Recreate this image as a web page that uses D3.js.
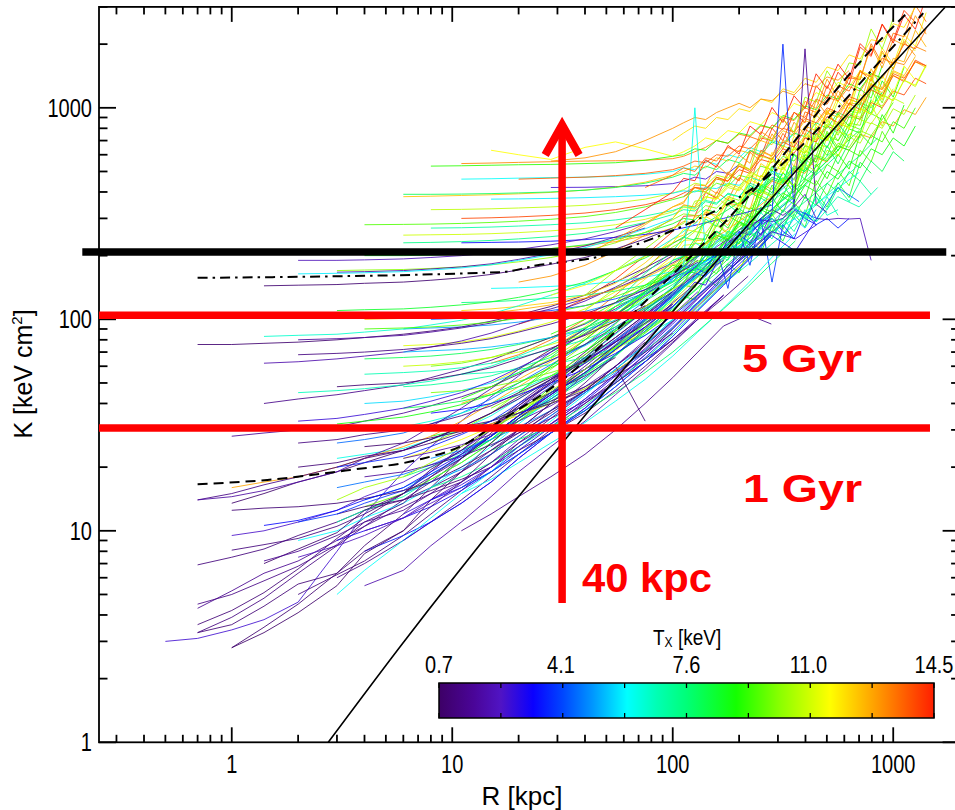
<!DOCTYPE html>
<html>
<head>
<meta charset="utf-8">
<script src="https://cdn.jsdelivr.net/npm/d3@7"></script>
<style>
  body { margin: 0; background: #fff; }
  svg { display: block; }
</style>
</head>
<body>
<svg id="chart" width="955" height="810"></svg>
<script>
// Radii (kpc) for the inner, smoothly sampled profiles
const radiusGrid = [0.5, 0.7, 1, 1.4, 2, 3, 4, 6, 8, 11, 15, 20, 28, 40, 55, 75, 100,
                    130, 170, 220, 280, 360, 450, 560, 700, 850, 1000, 1200, 1450];
// Radii (kpc) for profiles that are finely sampled out to large radius
const outerRadiusGrid = [3, 4, 6, 8, 11, 15, 20, 28, 40, 55, 75, 100,
                         112, 126, 141, 158, 178, 200, 224, 251, 282, 316, 355, 398, 447,
                         501, 562, 631, 708, 794, 891, 1000, 1120, 1260, 1410];

// Each row: [Tx (keV), index of first radius in its grid, K values (keV cm^2)...]
const coolCoreProfiles = [
  [2.6, 0, 3.0, 3.1, 3.4, 3.8, 4.6, 8, 12, 19, 25, 33, 43, 54, 70, 90, 115],
  [1.2, 1, 3.3, 3.9, 4.8, 6.3, 8.5, 10.5, 14, 17, 22, 28, 35, 45, 60, 78, 100],
  [1.0, 1, 3.6, 4.2, 5.1, 6.6, 9.2, 11.5, 15, 19, 25, 31, 40, 52, 70, 90, 115, 140],
  [0.9, 2, 2.8, 3.5, 4.5, 6.3, 8.5, 12, 16, 22, 29, 38, 50, 68, 88, 110],
  [1.5, 1, 4.3, 5.2, 6.3, 7.2, 9, 10.5, 13, 15, 19, 24, 30, 40, 55, 75, 100, 130],
  [1.1, 1, 6.9, 7.5, 8.2, 9.5, 11, 12.5, 14, 16, 19, 23, 28, 37, 50, 68, 90, 120, 150],
  [12.8, 2, 16, 17, 18, 20, 22, 25, 28, 33, 40, 48, 60, 80, 105, 135, 170, 215, 270],
  [1.3, 1, 14, 15, 16.5, 18, 20, 22, 24, 27, 31, 36, 42, 52, 65, 82, 105, 130, 160, 190],
  [0.8, 2, 13.5, 15, 17, 19, 21, 24, 27, 31, 36, 43, 52, 63, 78, 95, 115],
  [1.6, 2, 28, 29, 30, 31, 33, 36, 39, 43, 48, 55, 64, 76, 92, 112, 135, 165, 195],
  [0.9, 1, 76, 76, 77, 78, 80, 82, 85, 88, 92, 98, 105, 115, 130, 150, 175, 205],
  [1.4, 3, 40, 42, 44, 46, 49, 53, 58, 64, 72, 82, 95, 112, 135, 160, 190],
  [2.0, 3, 62, 63, 65, 67, 70, 74, 79, 86, 95, 107, 122, 142, 168, 200],
  [1.7, 4, 80, 81, 82, 84, 87, 91, 96, 103, 112, 125, 140, 160, 185, 215],
  [6.5, 3, 83, 84, 85, 87, 90, 94, 99, 106, 116, 130, 148, 170, 200, 240, 290],
  [0.9, 3, 144, 145, 146, 148, 150, 153, 157, 163, 171, 182, 196, 215, 240, 270],
  [2.2, 4, 190, 190, 191, 193, 196, 200, 206, 214, 225, 240, 260, 285],
  [1.9, 5, 167, 168, 170, 173, 177, 183, 192, 205, 222, 245, 270],
  [5.8, 4, 164, 165, 166, 168, 171, 175, 181, 190, 202, 218, 240, 268, 300],
  [1.1, 4, 5.0, 6.2, 7.2, 9.5, 12, 15.5, 20, 26, 34, 45, 58, 75, 98],
  [2.3, 4, 7.5, 8.5, 9.5, 11.5, 14, 17, 21, 27, 35, 46, 60, 80, 105, 135],
  [1.3, 5, 6.0, 7.0, 9.0, 11, 14, 18, 23, 30, 40, 52, 68, 90],
  [3.1, 5, 9, 10, 11.5, 13, 15.5, 19, 24, 31, 41, 54, 70, 92, 120, 155, 200],
  [1.0, 5, 12, 13, 14, 15.5, 17.5, 20, 24, 29, 36, 46, 60, 78, 100, 130],
  [3.6, 6, 8, 9.5, 11, 13.5, 17, 22, 29, 38, 50, 66, 87, 115, 150, 195, 250],
  [1.6, 6, 18, 19, 20.5, 22.5, 25.5, 29, 34, 41, 50, 63, 80, 102, 130],
  [0.8, 6, 25, 26, 27.5, 29.5, 32, 36, 41, 48, 57, 70, 86],
  [2.8, 7, 12, 14, 16.5, 20, 25, 32, 42, 55, 72, 95, 125, 165, 215, 280],
  [4.8, 7, 15, 17, 19.5, 23, 28, 35, 45, 58, 76, 100, 130, 170, 220, 285, 370],
  [1.9, 7, 22, 23.5, 25.5, 28.5, 33, 39, 48, 60, 76, 98, 126, 162, 210],
  [1.2, 8, 30, 31, 33, 36, 40, 46, 54, 65, 80, 100, 126, 160],
  [3.3, 8, 36, 37.5, 40, 44, 50, 58, 69, 84, 104, 130, 163, 205, 258],
  [1.0, 4, 20, 21, 22.5, 24, 26, 29, 33, 38, 45, 54, 66],
  [2.5, 2, 9.5, 10, 11, 12.5, 14.5, 17, 20, 24, 30, 38, 48, 62, 80, 103, 132, 168],
  [0.85, 3, 7, 8.2, 9.8, 12.5, 15, 19.5, 24, 31, 39, 50, 64, 82, 105, 135],
  [3.9, 4, 11, 12, 13.5, 15.5, 18.5, 22.5, 28, 35, 45, 58, 76, 99, 128, 165, 215, 275],
  [2.0, 6, 5.5, 6.5, 8.5, 11, 14.5, 19, 25, 33, 44, 58, 77, 100, 130],
  [1.0, 1, 3.3, 3.6, 4.4, 5.6, 6.3, 8, 10, 13, 17, 23, 30, 40],
  [0.75, 2, 2.8, 3.3, 4.1, 5.5, 7.8, 10, 14, 19, 26, 34, 44, 58, 75],
  [1.3, 1, 4.5, 5.0, 5.8, 6.8, 8.6, 11, 13.5, 18, 23, 30, 39, 51, 66, 86, 110],
  [1.1, 2, 8.1, 8.6, 9.2, 10.5, 12, 15, 18, 22, 28, 35, 44, 56, 72, 92],
  [0.95, 2, 12.5, 12.8, 13, 13.5, 14.2, 15.5, 17, 20, 24, 29, 36, 46, 60, 78],
  [1.8, 1, 14, 14.5, 15.5, 17, 19, 22, 26, 31, 38, 47, 58, 72, 90],
  [1.5, 3, 7.2, 8, 9.5, 11, 12.5, 15, 17, 21, 26, 32, 40, 50, 63, 80],
  [3.4, 3, 10.6, 11.2, 12.5, 14, 16, 19, 23, 28, 35, 44, 56, 72, 92, 118],
  [6.0, 5, 5.0, 6.5, 9, 11.5, 15, 19, 25, 33, 44, 58, 76, 100],
  [10.5, 5, 14, 16, 18, 21, 25, 30, 37, 46, 58, 74, 95, 122, 158, 205, 265],
  [2.7, 4, 33, 34, 35.5, 38, 41, 45, 51, 59, 70, 85, 105, 130, 162, 200],
  [1.2, 4, 26, 27, 28.5, 30, 32, 35, 39, 45, 53, 64, 78, 96, 118],
  [0.9, 5, 48, 49, 50, 52, 55, 59, 65, 73, 84, 98, 116],
  [1.2, 4, 68, 69, 70, 72, 74, 77, 81, 87, 95, 106, 120, 138, 160, 186],
  [2.9, 7, 9, 11, 13.5, 17, 22, 29, 38, 51, 68, 90, 120, 160, 210, 260, 240, 280],
  [3.2, 8, 14, 16, 19, 23, 29, 37, 48, 63, 83, 110, 145, 190, 250, 210, 300],
  [2.4, 6, 10, 11.5, 13.5, 16, 20, 25, 32, 42, 55, 73, 97, 128, 170, 225, 280],
  [4.4, 9, 16, 19, 23, 29, 37, 48, 63, 83, 110, 145, 192, 255, 330, 300, 420, 360],
  [1.5, 9, 10, 12, 14.5, 18, 23, 30, 40, 53, 70, 93, 105, 95],
  [1.0, 10, 25, 30, 37, 46, 60, 33]
];

const midProfiles = [
  [5.2, 6, 14, 16, 18.5, 22, 27, 34, 43, 56, 74, 98, 130, 172, 225, 290, 370, 470],
  [7.8, 7, 18, 20, 23, 27, 33, 41, 52, 67, 88, 115, 150, 195, 255, 330, 420, 530, 660],
  [6.2, 5, 22, 23, 24.5, 27, 30, 35, 42, 52, 66, 85, 110, 143, 185, 240, 310, 395, 500],
  [8.6, 8, 28, 30, 33, 38, 45, 55, 68, 86, 110, 142, 184, 238, 305, 390, 500, 630, 780],
  [5.6, 6, 40, 41, 43, 46, 50, 56, 64, 75, 90, 110, 136, 170, 212, 265, 330, 410],
  [7.2, 7, 48, 49, 51, 54, 59, 66, 76, 90, 108, 132, 163, 203, 252, 315, 390, 485, 600],
  [4.5, 5, 26, 27, 29, 32, 36, 42, 50, 61, 76, 96, 122, 155, 197, 250],
  [6.8, 9, 55, 56, 58, 61, 66, 73, 84, 99, 120, 147, 182, 226, 282, 350, 435, 540],
  [8.0, 6, 65, 66, 67, 69, 72, 76, 82, 91, 104, 122, 146, 178, 218, 268, 330, 408, 505, 625],
  [5.0, 7, 90, 91, 92, 94, 97, 102, 109, 119, 133, 152, 178, 212, 256, 312, 380],
  [7.5, 9, 120, 121, 123, 126, 130, 136, 145, 158, 176, 200, 232, 275, 330, 400, 485, 590, 720],
  [4.2, 8, 100, 101, 103, 106, 110, 116, 125, 138, 156, 180, 212, 255, 310],
  [6.0, 10, 140, 141, 143, 146, 151, 158, 168, 182, 201, 226, 258, 300, 352, 416, 495],
  [3.4, 9, 230, 231, 232, 234, 238, 244, 252, 264, 280, 300, 322, 346],
  [6.8, 6, 55, 56, 57, 59, 62, 66, 72, 80, 92, 108, 130, 158, 195, 240, 300],
  [8.5, 5, 110, 111, 112, 114, 117, 121, 127, 136, 150, 170, 195, 228, 270, 320, 380, 450],
  [6.9, 11, 35, 40, 47, 57, 71, 90, 116, 150, 195, 250, 320, 290, 380, 340, 420],
  [7.0, 5, 11, 12.5, 14.5, 17.5, 21, 26, 33, 43, 56, 73, 96, 125, 165, 215, 280, 360, 440],
  [9.8, 6, 13, 15, 17.5, 21, 26, 33, 42, 55, 72, 95, 125, 165, 215, 270],
  [5.9, 4, 9, 10, 11.5, 13.5, 16, 20, 25, 32, 42, 55, 72, 95, 125, 165, 215],
  [11.5, 7, 22, 24, 27, 31, 37, 45, 56, 71, 91, 118, 152, 196, 250],
  [6.4, 6, 30, 31, 33, 36, 40, 46, 54, 65, 80, 100, 127, 162, 205, 260, 330],
  [8.1, 7, 38, 39, 41, 44, 48, 54, 62, 74, 90, 112, 140, 176, 222],
  [4.6, 5, 16, 17, 18.5, 20.5, 23.5, 28, 34, 42, 53, 68, 88, 114, 148, 192],
  [10.0, 8, 45, 46, 48, 51, 56, 63, 73, 87, 106, 131, 163, 205, 258, 325],
  [7.3, 8, 16, 18, 21, 25, 31, 39, 50, 65, 85, 112, 148, 195],
  [12.3, 9, 30, 32, 35, 40, 47, 57, 71, 90, 116, 150, 195, 255, 330],
  [5.3, 7, 70, 71, 72, 74, 77, 82, 89, 99, 113, 133, 160, 196, 240],
  [6.7, 4, 45, 46, 47, 49, 51, 55, 60, 67, 77, 91, 110, 135, 168, 210],
  [9.5, 6, 90, 91, 92, 94, 97, 101, 107, 116, 128, 145, 168, 200, 242, 295, 360],
  [4.9, 8, 22, 24, 27, 31, 37, 45, 56, 71, 91, 118, 152],
  [8.9, 5, 32, 33, 34.5, 36.5, 39.5, 44, 50, 59, 71, 88, 110, 140, 178, 228, 290],
  [3.7, 5, 20, 21, 22.5, 25, 28.5, 33, 40, 49, 62, 79, 101, 130],
  [10.9, 7, 60, 61, 63, 66, 70, 76, 85, 98, 115, 138, 168, 208, 258],
  [6.1, 9, 15, 17.5, 21, 26, 32.5, 41, 52, 67, 87, 113, 148, 195, 255],
  [7.7, 10, 24, 27, 31, 37, 45, 56, 70, 88, 112, 143, 183, 235],
  [12.7, 6, 100, 101, 102, 104, 107, 111, 117, 126, 139, 157, 182, 215, 258, 312, 380]
];

// Finely sampled profiles reaching large radii (outerRadiusGrid)
const hotProfiles = [
  [9.0, 4, 22, 27, 35, 48, 66, 90, 115, 140, 165, 167, 214, 202, 262, 244, 337, 316, 431, 377, 514, 458, 686, 595, 794, 693, 1043, 942, 1341, 1123, 1554],
  [10.2, 3, 26, 30, 36, 45, 58, 76, 100, 128, 160, 168, 214, 218, 278, 254, 325, 302, 438, 411, 526, 454, 666, 630, 886, 742, 966, 944, 1398, 1125, 1568],
  [11.8, 5, 50, 58, 72, 92, 120, 155, 200, 236, 238, 306, 288, 374, 348, 482, 452, 616, 538, 734, 654, 980, 850, 1134, 990, 1490, 1346, 1916, 1604, 2220, 1954, 2820],
  [12.6, 4, 40, 45, 52, 63, 80, 103, 135, 175, 184, 235, 238, 305, 278, 355, 331, 480, 450, 576, 497, 728, 690, 970, 812, 1057, 1033, 1530, 1230, 1715, 1649, 2328, 1943],
  [13.5, 5, 62, 68, 80, 100, 130, 172, 230, 242, 308, 313, 400, 366, 467, 435, 630, 591, 757, 653, 957, 906, 1274, 1067, 1389, 1357, 2010, 1617, 2254, 2167, 3059, 2553],
  [14.2, 6, 95, 105, 125, 155, 200, 260, 307, 309, 398, 374, 486, 452, 627, 588, 801, 699, 954, 850, 1274, 1105, 1474, 1287, 1937, 1750, 2491, 2085, 2886, 2540],
  [9.6, 5, 30, 36, 45, 58, 75, 98, 125, 145, 141, 178, 164, 208, 189, 256, 234, 314, 266, 356, 310, 453, 385, 503, 428, 629, 556, 774, 633],
  [10.8, 6, 55, 65, 82, 105, 138, 180, 187, 229, 227, 284, 256, 317, 290, 409, 376, 470, 396, 569, 526, 724, 592, 752, 720, 1039, 817, 1112, 1048],
  [8.4, 4, 24, 28, 34, 42, 53, 68, 88, 110, 128, 124, 156, 144, 183, 166, 226, 206, 276, 234, 314, 273, 398, 339, 442, 376, 553, 490],
  [9.9, 3, 60, 62, 66, 72, 82, 96, 115, 132, 150, 158, 201, 204, 261, 239, 305, 284, 411, 386, 494, 426, 624, 591, 831, 696, 906, 885, 1311, 1055, 1470],
  [11.2, 2, 75, 76, 78, 82, 88, 97, 112, 135, 160, 190, 224, 226, 291, 274, 355, 331, 458, 429, 585, 511, 697, 621, 931, 808, 1077, 941, 1416, 1279, 1820, 1524, 2109, 1856],
  [12.2, 4, 110, 112, 115, 120, 130, 148, 185, 240, 250, 305, 302, 379, 341, 422, 386, 545, 502, 626, 528, 758, 701, 965, 790, 1003, 960, 1385, 1090, 1483, 1397],
  [13.0, 6, 150, 160, 180, 210, 250, 300, 348, 339, 426, 393, 498, 453, 615, 561, 753, 639, 855, 744, 1086, 924, 1206, 1026, 1509, 1335, 1857, 1518, 2061, 1764],
  [9.3, 7, 85, 100, 120, 142, 165, 195, 196, 252, 238, 309, 287, 398, 373, 508, 444, 606, 540, 809, 701, 936, 817, 1229, 1110, 1581],
  [8.9, 8, 70, 95, 135, 190, 198, 241, 239, 300, 270, 334, 306, 431, 397, 496, 418, 600, 555, 764, 625, 794, 760, 1096],
  [7.6, 9, 120, 165, 210, 244, 237, 298, 275, 349, 317, 431, 393, 527, 447, 599, 521, 760, 647, 844, 718],
  [6.6, 10, 140, 190, 200, 230, 215, 260, 245, 290, 255, 320, 280, 300, 350, 290, 380, 310, 330],
  [10.4, 8, 130, 170, 215, 270, 284, 362, 367, 470, 429, 548, 510, 740, 694, 888, 767, 1123, 1064, 1496, 1253, 1631, 1593, 2360, 1898, 2646],
  [11.5, 7, 130, 145, 170, 198, 230, 267, 260, 327, 301, 382, 347, 472, 430, 577, 490, 656, 570, 833, 708, 925, 787, 1157, 1024, 1424, 1164, 1580, 1352],
  [12.9, 8, 200, 240, 285, 340, 354, 432, 428, 537, 483, 598, 547, 772, 711, 887, 748, 1074, 993, 1367, 1119, 1421, 1360, 1962, 1544, 2101, 1979, 2727, 2230],
  [14.5, 9, 270, 330, 400, 464, 452, 568, 524, 664, 604, 820, 748, 1004, 852, 1140, 992, 1448, 1232, 1608, 1368, 2012, 1780, 2476, 2024, 2748, 2352, 3352],
  [9.1, 4, 42, 48, 56, 68, 86, 105, 128, 150, 174, 170, 213, 197, 249, 227, 308, 281, 377, 320, 428, 372, 543, 462, 603, 513, 755, 668, 929, 759, 1031],
  [10.0, 5, 38, 44, 54, 68, 88, 113, 140, 147, 188, 190, 244, 223, 284, 265, 384, 360, 461, 398, 582, 552, 776, 650, 846, 826, 1224, 984],
  [8.2, 7, 66, 88, 106, 132, 165, 172, 210, 208, 261, 234, 290, 266, 375, 345, 431, 363, 521, 482, 663, 543, 690],
  [7.0, 8, 95, 115, 132, 150, 165, 180, 172, 205, 190, 240, 215, 270, 240, 300, 260, 330, 290, 380, 310],
  [5.4, 9, 110, 135, 165, 180, 170, 200, 215, 205, 250, 230, 215, 280, 250, 300, 270, 330],
  [3.6, 11, 130, 150, 165, 160, 200, 215, 250, 230, 280, 300, 260, 240, 320, 280, 300, 270, 300],
  [2.2, 12, 160, 175, 200, 220, 240, 265, 280, 295, 290, 300, 340, 390, 300, 296, 300, 298, 300, 190],
  [4.0, 10, 110, 140, 160, 175, 165, 215, 140, 260, 180, 300, 150, 280, 240],
  [3.0, 9, 75, 92, 115, 130, 150, 145, 185, 240, 200, 290, 250, 320],
  [6.2, 9, 100, 125, 155, 180, 1000, 200, 230, 260, 250, 300],
  [3.8, 14, 180, 200, 230, 260, 250, 290, 320, 2000, 330, 300, 280],
  [1.5, 15, 200, 230, 250, 270, 300, 330, 310, 340, 1900, 350, 320],
  [8.8, 6, 45, 60, 80, 105, 135, 170, 200, 190, 230, 250, 235, 290, 270, 330, 310, 380, 350, 430, 400, 500, 460, 560, 520, 640, 600, 720, 660, 820],
  [9.4, 7, 70, 90, 115, 145, 180, 175, 215, 205, 250, 240, 290, 275, 340, 320, 395, 370, 460, 430, 540, 500, 630, 590, 740, 690, 860, 800, 1000],
  [10.6, 8, 110, 140, 175, 220, 235, 260, 255, 300, 290, 345, 330, 400, 380, 460, 430, 540, 500, 630, 590, 730, 680, 850, 800, 990, 930, 1150],
  [12.5, 9, 230, 280, 340, 360, 420, 400, 470, 450, 540, 510, 620, 590, 700, 680, 820, 780, 950, 900, 1100, 1050, 1300, 1220, 1500, 1420, 1750],
  [13.6, 10, 420, 480, 520, 500, 580, 560, 650, 620, 730, 700, 830, 790, 950, 900, 1100, 1040, 1270, 1200, 1480, 1400, 1720, 1620, 2000, 1900, 2350],
  [11.3, 11, 300, 340, 330, 380, 370, 430, 410, 490, 470, 560, 530, 640, 610, 730, 700, 850, 800, 990, 930, 1150, 1080, 1350, 1280, 1600],
  [8.0, 12, 150, 175, 170, 205, 195, 240, 225, 280, 260, 330, 300, 380, 345, 440, 400, 500, 450, 560, 500, 620, 560],
  [7.2, 13, 170, 200, 190, 230, 215, 260, 240, 300, 270, 340, 300, 380, 330, 420, 360, 450, 390],
  [13.9, 12, 380, 420, 410, 470, 450, 530, 500, 600, 570, 690, 650, 790, 740, 910, 850, 1050, 980, 1220, 1140, 1420, 1330, 1680, 1580],
  [10.9, 13, 350, 400, 380, 440, 420, 500, 470, 570, 540, 650, 610, 750, 700, 860, 800, 1000, 930, 1160, 1080, 1350, 1260, 1580]
];

// Profiles with a high, flat central entropy (outerRadiusGrid)
const flatCoreProfiles = [
  [11.6, 5, 630, 600, 570, 650, 690, 640, 590, 620, 660, 720, 700, 780, 760, 860, 830, 950, 900, 1050, 1000, 1180, 1120, 1320, 1250, 1500, 1420, 1700],
  [13.2, 4, 545, 548, 552, 556, 560, 562, 565, 575, 590, 620, 650, 700, 680, 750, 730, 820, 800, 900, 870, 1000, 950, 1120, 1080, 1260, 1200, 1450, 1380, 1650, 1600, 1950, 1850],
  [9.2, 3, 530, 532, 535, 538, 540, 545, 550, 565, 590, 600, 640, 630, 700, 680, 760, 740, 830, 800, 920, 880, 1020, 980, 1150, 1100, 1300, 1230, 1450, 1380],
  [6.0, 4, 460, 462, 465, 468, 470, 475, 485, 500, 520, 510, 560, 540, 600, 580, 650, 620, 700, 680, 760],
  [2.6, 7, 420, 421, 424, 428, 438, 450, 470, 460, 500, 490, 540],
  [12.4, 2, 380, 382, 385, 388, 392, 398, 408, 422, 445, 480, 500, 530, 520, 580, 560, 630, 610, 700, 670, 780, 740, 870, 830, 980, 930, 1100, 1050, 1250, 1180, 1420, 1350, 1650, 1550],
  [8.0, 2, 390, 390, 391, 393, 396, 400, 408, 420, 440, 470, 490, 480, 530, 510, 570, 550, 630, 600, 690, 660, 760, 730, 850, 800, 950, 900, 1060, 1000, 1180],
  [10.8, 3, 330, 331, 333, 336, 340, 346, 355, 370, 395, 410, 440, 430, 480, 465, 530, 510, 590, 570, 660, 630, 740, 710, 840, 800, 950, 900, 1080, 1020, 1230],
  [14.0, 4, 300, 302, 305, 310, 318, 330, 348, 374, 395, 420, 415, 460, 450, 510, 490, 570, 550, 640, 610, 720, 690, 820, 780, 930, 880, 1060, 1000, 1200, 1150, 1380, 1300],
  [9.6, 1, 280, 281, 282, 284, 287, 291, 297, 306, 320, 340, 368, 380, 405, 400, 440, 425, 480, 465, 530, 510, 590, 560, 660, 630, 740, 700, 830, 790, 940, 880, 1060],
  [11.0, 2, 250, 251, 252, 254, 257, 262, 269, 280, 297, 322, 345, 340, 380, 370, 420, 405, 470, 450, 530, 510, 600, 570, 680, 650, 770, 740, 880, 840, 1000],
  [7.4, 2, 230, 231, 233, 236, 240, 246, 255, 268, 287, 313, 330, 325, 360, 350, 395, 380, 440, 420, 490, 460, 530, 500, 580],
  [12.9, 3, 205, 206, 208, 211, 216, 223, 233, 248, 270, 290, 285, 320, 310, 355, 345, 400, 385, 450, 430, 510, 490, 580, 555, 660, 630, 750, 720, 860, 820, 980, 930, 1120],
  [5.8, 5, 370, 371, 373, 376, 380, 386, 395, 405, 400, 420, 415, 440, 430, 470, 450, 500, 480],
  [8.6, 1, 200, 200, 201, 203, 206, 210, 216, 225, 238, 257, 283, 300, 295, 330, 320, 365, 350, 410, 395, 460, 440, 520, 500, 590, 560, 660, 630, 740],
  [10.2, 0, 170, 171, 172, 174, 177, 181, 187, 196, 210, 230, 258, 296, 315, 310, 345, 335, 380, 365, 420, 405, 470, 450, 530, 510, 600, 570, 680, 650, 780, 740, 880],
  [13.7, 6, 460, 465, 470, 478, 490, 510, 530, 560, 550, 600, 590, 660, 640, 720, 700, 800, 770, 890, 850, 1000, 950, 1130, 1080, 1280, 1220, 1450, 1380, 1650, 1580],
  [7.0, 3, 270, 271, 273, 276, 280, 286, 295, 308, 327, 340, 335, 365, 355, 390, 380, 430, 410, 470, 450, 510],
  [12.0, 11, 700, 760, 820, 800, 900, 880, 990, 960, 1100, 1060, 1230, 1180, 1380, 1320, 1560, 1500, 1780, 1700, 2100, 2050, 2500, 2400, 3000, 3300],
  [13.0, 7, 560, 580, 620, 700, 800, 850, 900, 880, 950, 1000, 1050, 1000, 1100, 1080, 1200, 1150, 1300, 1250, 1400, 1350, 1500]
];

// Reference curves, [R (kpc), K (keV cm^2)]
const baselineCurve = [[2.74, 1], [5.8, 2.83], [35.3, 30], [224, 286], [1718, 2986]];
const dashedCurve = [[0.70, 16.6], [1.45, 17.4], [3.44, 19.4], [6.92, 21.6], [11.7, 26.0], [16.0, 32.3],
                     [31.5, 51.6], [85, 138], [120, 197], [176, 295], [902, 2168], [1133, 2754]];
const dashDotCurve = [[0.70, 157], [16.5, 167], [25, 181], [45.4, 197], [71.1, 229], [120, 286],
                      [202, 379], [968, 1876], [1368, 2806]];

// Marked entropy levels and radius
const thresholdK = 208;
const gyrLevelsK = [104.4, 30.6];
const markerRadius = 31.5;

// Temperature colour bar
const tempLabels = [0.7, 4.1, 7.6, 11.0, 14.5];
const tempTickValues = [0.7, 2.425, 4.15, 5.875, 7.6, 9.325, 11.05, 12.775, 14.5];
const rainbowPositions = [0, 0.07, 0.125, 0.19, 0.25, 0.31, 0.38, 0.44, 0.5, 0.6, 0.69, 0.79, 0.88, 1];
const rainbowColors = ['#3d0066', '#4a0598', '#5014c4', '#0a00ff', '#0046ff', '#0096ff', '#00ffff',
                       '#00ffb4', '#00ff78', '#14ff00', '#8cff00', '#ffff00', '#ffa000', '#ff1e00'];

const axisTicksR = [1, 10, 100, 1000];
const axisTicksK = [1, 10, 100, 1000];

const svg = d3.select('#chart');
const x = d3.scaleLog().domain([0.25, 2000]).range([99, 959.6]);
const y = d3.scaleLog().domain([1, 3000]).range([742.3, 6.9]);
const tMin = 0.7, tMax = 14.5;
const color = d3.scaleLinear()
  .domain(rainbowPositions.map(p => tMin + p * (tMax - tMin)))
  .range(rainbowColors)
  .interpolate(d3.interpolateRgb)
  .clamp(true);

svg.append('rect').attr('width', 955).attr('height', 810).attr('fill', '#fff');
const defs = svg.append('defs');
defs.append('clipPath').attr('id', 'plot-clip')
  .append('rect')
  .attr('x', x.range()[0]).attr('y', y.range()[1])
  .attr('width', x.range()[1] - x.range()[0])
  .attr('height', y.range()[0] - y.range()[1]);

const plot = svg.append('g').attr('clip-path', 'url(#plot-clip)');
const line = d3.line().x(d => x(d[0])).y(d => y(d[1]));
const smoothLine = d3.line().x(d => x(d[0])).y(d => y(d[1])).curve(d3.curveMonotoneX);

function toPoints(row, grid) {
  const start = row[1];
  return row.slice(2, 2 + grid.length - start).map((k, i) => [grid[start + i], k]);
}

// Interleave the groups so that no temperature range sits entirely on top
const groups = [
  coolCoreProfiles.map(r => ({ row: r, grid: radiusGrid })),
  midProfiles.map(r => ({ row: r, grid: radiusGrid })),
  hotProfiles.map(r => ({ row: r, grid: outerRadiusGrid })),
  flatCoreProfiles.map(r => ({ row: r, grid: outerRadiusGrid }))
];
const allProfiles = [];
const longest = d3.max(groups, g => g.length);
for (let i = 0; i < longest; i++) {
  groups.forEach(g => { if (i < g.length) allProfiles.push(g[i]); });
}

plot.append('g')
  .selectAll('path')
  .data(allProfiles)
  .join('path')
  .attr('d', p => line(toPoints(p.row, p.grid)))
  .attr('fill', 'none')
  .attr('stroke', p => color(p.row[0]))
  .attr('stroke-width', 1)
  .attr('stroke-opacity', 0.85)
  .attr('stroke-linejoin', 'round');

plot.append('path').attr('d', smoothLine(baselineCurve))
  .attr('fill', 'none').attr('stroke', '#000').attr('stroke-width', 1.6);
plot.append('path').attr('d', smoothLine(dashedCurve))
  .attr('fill', 'none').attr('stroke', '#000').attr('stroke-width', 2)
  .attr('stroke-dasharray', '10,6');
plot.append('path').attr('d', smoothLine(dashDotCurve))
  .attr('fill', 'none').attr('stroke', '#000').attr('stroke-width', 2)
  .attr('stroke-dasharray', '10,5,2.5,5');

// Frame and log ticks on all four sides
const axes = svg.append('g').attr('stroke', '#000').attr('stroke-width', 1.8).attr('fill', 'none');
const [x0, x1] = x.range();
const [yb, yt] = y.range();
axes.append('rect').attr('x', x0).attr('y', yt).attr('width', x1 - x0).attr('height', yb - yt);
const isMajor = v => Math.abs(Math.log10(v) - Math.round(Math.log10(v))) < 1e-9;
x.ticks().forEach(v => {
  const px = x(v), len = isMajor(v) ? 15 : 7.5;
  axes.append('line').attr('x1', px).attr('x2', px).attr('y1', yb).attr('y2', yb - len);
  axes.append('line').attr('x1', px).attr('x2', px).attr('y1', yt).attr('y2', yt + len);
});
y.ticks().forEach(v => {
  const py = y(v), len = isMajor(v) ? 17 : 8.5;
  axes.append('line').attr('x1', x0).attr('x2', x0 + len).attr('y1', py).attr('y2', py);
  axes.append('line').attr('x1', x1).attr('x2', x1 - len).attr('y1', py).attr('y2', py);
});

function stretchedLabel(parent, px, py, str, anchor, size, sx, sy) {
  return parent.append('g')
    .attr('transform', `translate(${px},${py}) scale(${sx},${sy})`)
    .append('text')
    .attr('text-anchor', anchor)
    .attr('font-family', '"Liberation Sans", Arial, sans-serif')
    .attr('font-size', size)
    .attr('fill', '#000')
    .text(str);
}

const labels = svg.append('g');
axisTicksR.forEach(v => stretchedLabel(labels, x(v), 773, String(v), 'middle', 20, 1, 1.28));
axisTicksK.forEach(v => stretchedLabel(labels, 92, y(v) + 9, String(v), 'end', 20, 1, 1.28));

labels.append('text')
  .attr('x', 522).attr('y', 805)
  .attr('text-anchor', 'middle')
  .attr('font-family', '"Liberation Sans", Arial, sans-serif')
  .attr('font-size', 26)
  .text('R [kpc]');

const kLabel = labels.append('text')
  .attr('transform', 'translate(32,374) rotate(-90)')
  .attr('text-anchor', 'middle')
  .attr('font-family', '"Liberation Sans", Arial, sans-serif')
  .attr('font-size', 25);
kLabel.append('tspan').text('K [keV cm');
kLabel.append('tspan').attr('font-size', 15).attr('dy', -10).text('2');
kLabel.append('tspan').attr('dy', 10).text(']');

// Annotations: entropy thresholds, marked radius and labels
const notes = svg.append('g');
notes.append('line')
  .attr('x1', x(0.21)).attr('x2', x(1740))
  .attr('y1', y(thresholdK)).attr('y2', y(thresholdK))
  .attr('stroke', '#000').attr('stroke-width', 7.5);
notes.selectAll('line.gyr')
  .data(gyrLevelsK)
  .join('line')
  .attr('class', 'gyr')
  .attr('x1', x(0.25)).attr('x2', x(1468))
  .attr('y1', d => y(d)).attr('y2', d => y(d))
  .attr('stroke', '#ff0000').attr('stroke-width', 7.5);
notes.append('line')
  .attr('x1', x(markerRadius)).attr('x2', x(markerRadius))
  .attr('y1', y(4.56)).attr('y2', y(820))
  .attr('stroke', '#ff0000').attr('stroke-width', 7.5);
notes.append('path')
  .attr('d', d3.line()([[x(26.4), y(598)], [x(markerRadius), y(830)], [x(37.6), y(598)]]))
  .attr('fill', 'none').attr('stroke', '#ff0000').attr('stroke-width', 8)
  .attr('stroke-linejoin', 'miter').attr('stroke-linecap', 'butt');

function redNote(px, py, str, size, width) {
  notes.append('text')
    .attr('x', px).attr('y', py)
    .attr('font-family', '"Liberation Sans", Arial, sans-serif')
    .attr('font-weight', 'bold')
    .attr('font-size', size)
    .attr('fill', '#ff0000')
    .attr('textLength', width)
    .attr('lengthAdjust', 'spacingAndGlyphs')
    .text(str);
}
redNote(742, 372, '5 Gyr', 39, 120);
redNote(743, 502, '1 Gyr', 39, 119);
redNote(582, 592, '40 kpc', 41, 130);

// Colour bar
const bar = { x: 439, y: 683, w: 495, h: 35 };
const grad = defs.append('linearGradient').attr('id', 'tx-grad');
rainbowPositions.forEach((p, i) => grad.append('stop').attr('offset', p).attr('stop-color', rainbowColors[i]));
const cb = svg.append('g');
cb.append('rect').attr('x', bar.x).attr('y', bar.y).attr('width', bar.w).attr('height', bar.h)
  .attr('fill', 'url(#tx-grad)').attr('stroke', '#000').attr('stroke-width', 1.5);
const tScale = d3.scaleLinear().domain([tMin, tMax]).range([bar.x, bar.x + bar.w]);
tempTickValues.forEach(v => {
  cb.append('line').attr('x1', tScale(v)).attr('x2', tScale(v)).attr('y1', bar.y).attr('y2', bar.y + 5)
    .attr('stroke', '#000').attr('stroke-width', 1.3);
  cb.append('line').attr('x1', tScale(v)).attr('x2', tScale(v)).attr('y1', bar.y + bar.h).attr('y2', bar.y + bar.h - 5)
    .attr('stroke', '#000').attr('stroke-width', 1.3);
});
tempLabels.forEach(v => stretchedLabel(cb, tScale(v), 673, v.toFixed(1), 'middle', 20, 1, 1.2));
const tLabel = cb.append('g').attr('transform', 'translate(653,645) scale(1,1.15)')
  .append('text')
  .attr('font-family', '"Liberation Sans", Arial, sans-serif')
  .attr('font-size', 19);
tLabel.append('tspan').text('T');
tLabel.append('tspan').attr('font-size', 12).attr('dy', 2).text('X');
tLabel.append('tspan').attr('dy', -2).text(' [keV]');
</script>
</body>
</html>
